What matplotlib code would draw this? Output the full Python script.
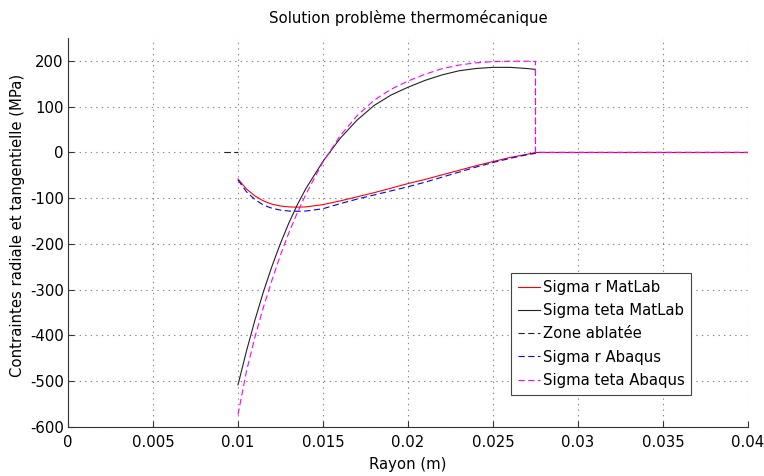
import numpy as np
import matplotlib
matplotlib.use("Agg")
import matplotlib.pyplot as plt

# Rayon (m)
r = [0.01, 0.0105, 0.011, 0.0115, 0.012, 0.0125, 0.013, 0.0135, 0.014,
     0.015, 0.016, 0.017, 0.018, 0.019, 0.02, 0.021, 0.022, 0.023, 0.024,
     0.025, 0.026, 0.027, 0.0275]

# Solution MatLab (MPa)
sigma_r_matlab = [-58, -80, -95, -106, -113, -117, -119, -119.5, -119,
                  -114, -106, -97, -88, -78, -68, -59, -49, -39, -29,
                  -20, -11, -4, 0]
sigma_teta_matlab = [-508, -434, -366, -304, -248.5, -198.5, -153.5, -113.5, -78.5,
                     -19.5, 30.5, 70.5, 102.5, 125.5, 142.5, 157.5, 169.5, 178.5, 183.5,
                     186, 186, 183.5, 181.5]

# Solution Abaqus (MPa)
sigma_r_abaqus = [-60, -86, -103, -115, -122, -126, -128, -128.5, -128,
                  -123, -112, -102, -93, -84, -75, -65, -54, -43, -32,
                  -22, -13, -5, -2]
sigma_teta_abaqus = [-573, -478, -403, -338, -279, -224, -175, -131, -91,
                     -21, 36, 80, 114, 138, 156, 171, 183, 191, 196,
                     198.5, 199.5, 199.5, 199]

# zone ablatee / bord libre
r_ext = [0.0275, 0.04]
r_abl = [0.0092, 0.01, np.nan, 0.0275, 0.0275]
s_abl = [0, 0, np.nan, 181.5, 0]

plt.rcParams['font.family'] = ['DejaVu Sans']
plt.rcParams['lines.scale_dashes'] = False
plt.rcParams['axes.unicode_minus'] = False
fs = 10.7

fig = plt.figure(figsize=(7.64, 4.76), dpi=100)
ax = fig.add_axes([0.089, 0.103, 0.890, 0.817])

ax.plot(r + r_ext, sigma_r_matlab + [0, 0], color='red', lw=0.8, label='Sigma r MatLab')
ax.plot(r, sigma_teta_matlab, color='#222222', lw=0.8, label='Sigma teta MatLab')
ax.plot(r_abl, s_abl, color='#222222', lw=0.8, dashes=(4.5, 2.5), label='Zone ablatée')
ax.plot(r + r_ext, sigma_r_abaqus + [0, 0], color='blue', lw=0.8, dashes=(4.5, 2.5),
        label='Sigma r Abaqus')
ax.plot(r + [0.0275] + r_ext, sigma_teta_abaqus + [0, 0, 0], color='magenta', lw=0.8,
        dashes=(4.5, 2.5), label='Sigma teta Abaqus')

ax.set_xlim(0, 0.04)
ax.set_ylim(-600, 250)
ax.set_xticks(np.arange(0, 0.0401, 0.005))
ax.set_xticklabels(['0', '0.005', '0.01', '0.015', '0.02', '0.025', '0.03', '0.035', '0.04'])
ax.set_yticks(np.arange(-600, 201, 100))

ax.grid(True, linestyle=(0, (1, 3)), color='#888888', lw=0.8)
ax.spines['top'].set_visible(False)
ax.spines['right'].set_visible(False)
ax.spines['left'].set_color('#333333')
ax.spines['bottom'].set_color('#333333')
ax.tick_params(direction='in', length=4, labelsize=fs, colors='#333333',
               labelcolor='black')
ax.tick_params(axis='x', pad=6)
ax.tick_params(axis='y', pad=3)

ax.set_title('Solution problème thermomécanique', fontsize=fs, pad=11)
ax.set_xlabel('Rayon (m)', fontsize=fs, labelpad=5)
ax.set_ylabel('Contraintes radiale et tangentielle (MPa)', fontsize=fs)
ax.yaxis.set_label_coords(-0.063, 0.517)

leg = ax.legend(loc='lower left', bbox_to_anchor=(0.652, 0.083), fontsize=fs,
                fancybox=False, framealpha=1, edgecolor='#444444',
                handlelength=1.5, handletextpad=0.15, borderpad=0.45,
                labelspacing=0.56, borderaxespad=0)
leg.get_frame().set_linewidth(0.8)

fig.savefig('out.png', dpi=100)
